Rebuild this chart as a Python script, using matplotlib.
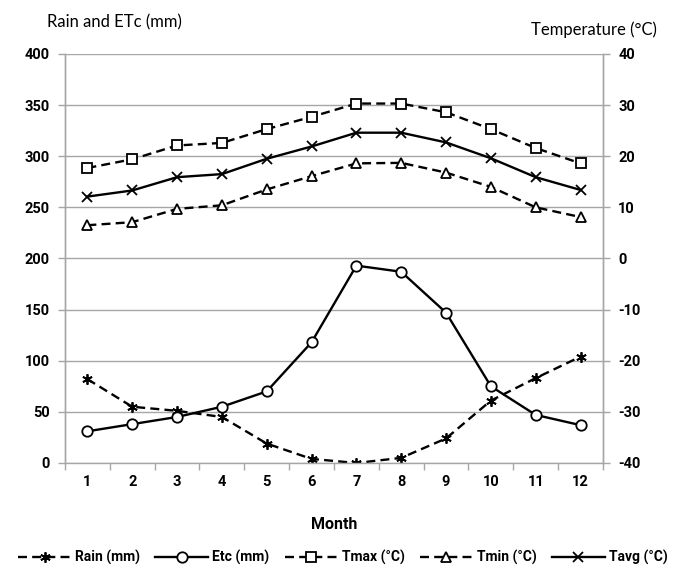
import matplotlib
matplotlib.use("Agg")
import matplotlib.pyplot as plt
from matplotlib.ticker import FixedLocator

months = list(range(1, 13))
month_labels = [str(m) for m in months]

# left axis (mm)
rain = [82, 55, 51, 45, 19, 4, 0, 5, 24, 61, 83, 104]
etc = [31, 38, 45, 55, 70, 118, 193, 187, 147, 75, 47, 37]

# right axis (deg C)
tmax = [17.7, 19.4, 22.1, 22.6, 25.3, 27.7, 30.3, 30.3, 28.6, 25.3, 21.6, 18.6]
tmin = [6.5, 7.1, 9.7, 10.4, 13.5, 16.1, 18.6, 18.7, 16.8, 14.0, 10.0, 8.1]
tavg = [12.1, 13.3, 15.9, 16.5, 19.5, 21.9, 24.6, 24.6, 22.7, 19.6, 15.9, 13.4]

left_ticks = list(range(0, 401, 50))
right_ticks = list(range(-40, 41, 10))

plt.rcParams.update({
    "font.family": ["Lato", "DejaVu Sans"],
    "font.size": 10,
    "axes.unicode_minus": False,
})

BOLD_FAMILY = ["Roboto", "DejaVu Sans"]
GRID = "#a6a6a6"
DASH = (0, (3.8, 2.2))
LW = 1.7

fig = plt.figure(figsize=(6.79, 5.74), dpi=100)
ax = fig.add_axes([0.0957, 0.1934, 0.7923, 0.7126])
ax2 = ax.twinx()

ax.set_xlim(0.5, 12.5)
ax.set_ylim(0, 400)
ax2.set_ylim(-40, 40)

bold = dict(fontweight="bold", fontsize=10.5, family=BOLD_FAMILY)
ax.set_yticks(left_ticks)
ax.set_yticklabels([str(v) for v in left_ticks], **bold)
ax2.set_yticks(right_ticks)
ax2.set_yticklabels([str(v) for v in right_ticks], **bold)
ax.set_xticks(months)
ax.set_xticklabels(month_labels, **bold)
ax.xaxis.set_minor_locator(FixedLocator([m + 0.5 for m in range(0, 13)]))

ax.grid(axis="y", color=GRID, lw=1.0)
ax.set_axisbelow(True)
for a in (ax, ax2):
    for s in a.spines.values():
        s.set_color(GRID)
        s.set_linewidth(1.0)
    a.spines["top"].set_visible(False)
ax2.spines["bottom"].set_visible(False)

ax.tick_params(axis="y", length=5, color=GRID, width=1.0, pad=6)
ax2.tick_params(axis="y", length=5, color=GRID, width=1.0, pad=6)
ax.tick_params(axis="x", which="major", length=0, pad=9)
ax.tick_params(axis="x", which="minor", length=5, color=GRID, width=1.0)

mk = dict(color="black", lw=LW, markersize=7.5, markerfacecolor="white",
          markeredgecolor="black", markeredgewidth=1.3)

h_rain, = ax.plot(months, rain, linestyle=DASH, marker=(6, 2, 0), label="Rain (mm)", **mk)
h_etc, = ax.plot(months, etc, linestyle="-", marker="o", label="Etc (mm)", **mk)
h_tmax, = ax2.plot(months, tmax, linestyle=DASH, marker="s", label="Tmax (°C)", **mk)
h_tmin, = ax2.plot(months, tmin, linestyle=DASH, marker="^", label="Tmin (°C)", **mk)
h_tavg, = ax2.plot(months, tavg, linestyle="-", marker="x", label="Tavg (°C)", **mk)

ax.set_xlabel("Month", fontsize=11.5, fontweight="bold", family=BOLD_FAMILY, labelpad=20)
fig.text(0.069, 0.961, "Rain and ETc (mm)", fontsize=12, va="center", ha="left")
fig.text(0.967, 0.948, "Temperature (°C)", fontsize=12, va="center", ha="right")

fig.legend(handles=[h_rain, h_etc, h_tmax, h_tmin, h_tavg],
           loc="center", bbox_to_anchor=(0.505, 0.028), ncol=5, frameon=False,
           prop={"weight": "bold", "size": 10, "family": BOLD_FAMILY}, handlelength=3.8,
           handletextpad=0.3, columnspacing=1.1, borderaxespad=0)

fig.savefig("out.png", dpi=100)
